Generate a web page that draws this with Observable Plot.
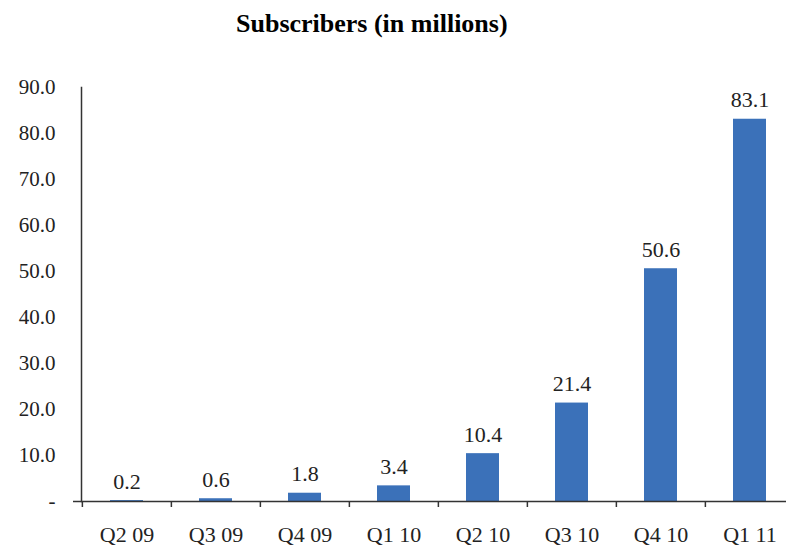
<!DOCTYPE html>
<html>
<head>
<meta charset="utf-8">
<script src="https://cdn.jsdelivr.net/npm/d3@7"></script>
<script src="https://cdn.jsdelivr.net/npm/@observablehq/plot@0.6"></script>
<style>
  body { margin: 0; background: #fff; }
  #title { position: relative; height: 40px; width: 786px; font-family: "Liberation Serif", "Times New Roman", serif; font-weight: bold; font-size: 26px; line-height: 26px; color: #000; }
  #title span { position: absolute; left: 236px; top: 11px; white-space: nowrap; }
  #chart svg { display: block; }
</style>
</head>
<body>
<div id="title"><span>Subscribers (in millions)</span></div>
<div id="chart"></div>
<script>
const quarters = ["Q2 09", "Q3 09", "Q4 09", "Q1 10", "Q2 10", "Q3 10", "Q4 10", "Q1 11"];
const subscribers = [0.2, 0.6, 1.8, 3.4, 10.4, 21.4, 50.6, 83.1];
const yTicks = [0, 10, 20, 30, 40, 50, 60, 70, 80, 90];

const data = quarters.map((q, i) => ({q, v: subscribers[i]}));
const x0 = 81, x1 = 795;
const step = (x1 - x0) / quarters.length;
const font = "'Liberation Serif', 'Times New Roman', serif";
const txt = "#222";
const axisColor = "#333";

const chart = Plot.plot({
  width: 786,
  height: 510,
  marginTop: 47,
  marginBottom: 49,
  marginLeft: 81,
  marginRight: 0,
  style: {fontFamily: font, fontSize: "21px", color: txt, background: "#fff", overflow: "visible"},
  x: {domain: quarters, range: [x0, x1], paddingInner: 0.63, paddingOuter: 0.315, align: 0.5, label: null},
  y: {domain: [0, 90], label: null},
  marks: [
    Plot.barY(data, {x: "q", y: "v", fill: "#3b71b9"}),
    Plot.text(data, {x: "q", y: "v", text: d => d.v.toFixed(1), lineAnchor: "bottom", dy: -12, fontSize: 22, fill: txt, style: "letter-spacing:0.5px"}),
    Plot.ruleY([0], {stroke: axisColor, strokeWidth: 1.5}),
    Plot.frame({anchor: "left", stroke: axisColor, strokeWidth: 1.5}),
    Plot.ruleX(quarters, {x: d => d, y1: 0, y2: 0, insetBottom: -6, dx: -step / 2, stroke: axisColor, strokeWidth: 1.5}),
    Plot.axisY({ticks: yTicks, tickSize: 0, tickPadding: 26, tickFormat: d => d === 0 ? "-" : d.toFixed(1), fontSize: 21, fill: txt, style: "letter-spacing:1px"}),
    Plot.axisY({ticks: [0], tickSize: 8, tickFormat: () => "", stroke: axisColor, strokeWidth: 1.5}),
    Plot.axisX({tickSize: 0, tickPadding: 25, fontSize: 22, fill: txt})
  ]
});
document.getElementById("chart").appendChild(chart);
</script>
</body>
</html>
